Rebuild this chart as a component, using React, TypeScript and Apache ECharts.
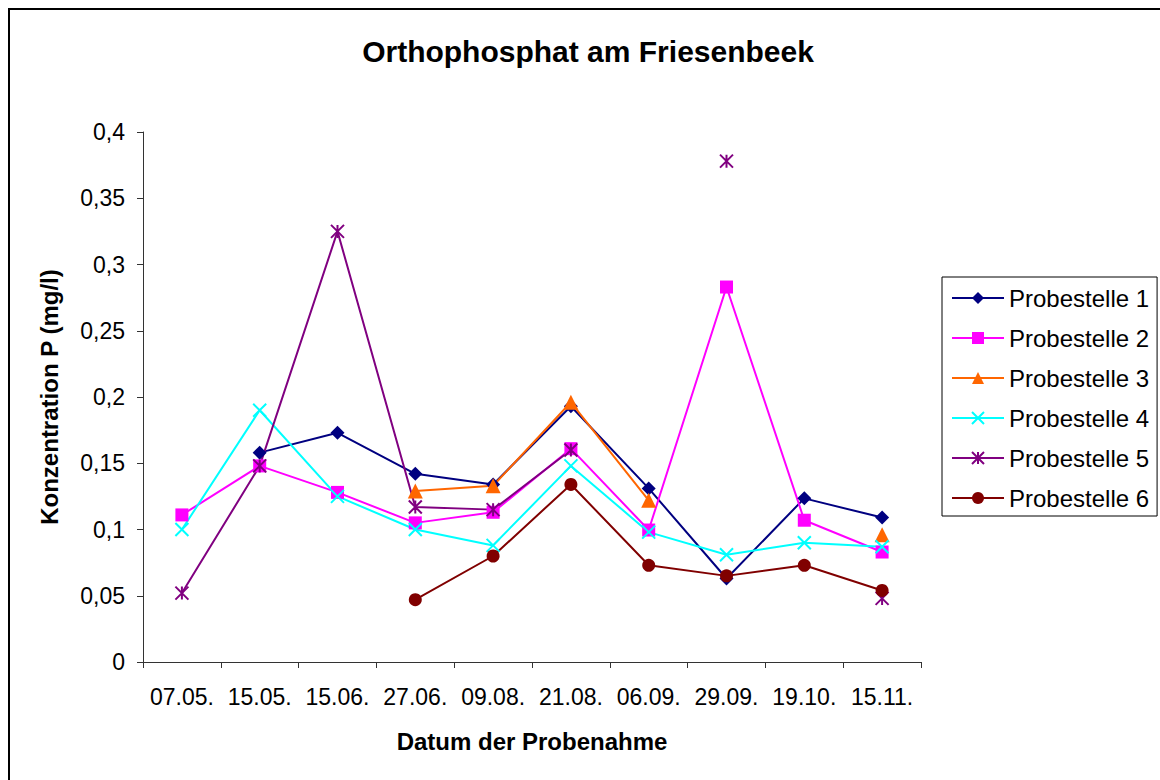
import React, { useEffect, useRef } from "react";
import * as echarts from "echarts";

const categories = ["07.05.", "15.05.", "15.06.", "27.06.", "09.08.", "21.08.", "06.09.", "29.09.", "19.10.", "15.11."];
const seriesNames = ["Probestelle 1", "Probestelle 2", "Probestelle 3", "Probestelle 4", "Probestelle 5", "Probestelle 6"];
const probestelle1 = [null, 0.158, 0.173, 0.142, 0.134, 0.193, 0.131, 0.063, 0.1235, 0.109];
const probestelle2 = [0.111, 0.148, 0.128, 0.105, 0.113, 0.161, 0.0996, 0.283, 0.107, 0.083];
const probestelle3 = [null, null, null, 0.129, 0.133, 0.196, 0.122, null, null, 0.096];
const probestelle4 = [0.1, 0.19, 0.125, 0.1, 0.088, 0.148, 0.098, 0.081, 0.09, 0.087];
const probestelle5 = [0.052, 0.148, 0.325, 0.117, 0.115, 0.16, null, 0.378, null, 0.048];
const probestelle6 = [null, null, null, 0.047, 0.08, 0.134, 0.073, 0.065, 0.073, 0.054];
const yTicks = [0, 0.05, 0.1, 0.15, 0.2, 0.25, 0.3, 0.35, 0.4];

const FONT = "'Liberation Sans', Arial, sans-serif";

const X_SYMBOL = "path://M0,0L10,10M10,0L0,10";
const STAR_SYMBOL = "path://M0,0L10,10M10,0L0,10M5,0L5,10";

export default function App() {
  const ref = useRef<HTMLDivElement>(null);

  useEffect(() => {
    if (!ref.current) return;
    const chart = echarts.init(ref.current, undefined, { renderer: "svg" });

    const mk = (name: string, data: (number | null)[], color: string, symbol: string, size: number, stroke = false) => ({
      name,
      type: "line",
      data,
      connectNulls: false,
      showSymbol: true,
      showAllSymbol: true,
      symbol,
      symbolSize: size,
      lineStyle: { color, width: 2 },
      itemStyle: stroke ? { color, borderColor: color, borderWidth: 2 } : { color },
      emphasis: { disabled: true },
      clip: false,
    });

    chart.setOption({
      animation: false,
      backgroundColor: "#fff",
      title: {
        text: "Orthophosphat am Friesenbeek",
        left: "center",
        top: 23,
        textStyle: { fontFamily: FONT, fontSize: 30, fontWeight: "bold", color: "#000" },
      },
      graphic: [
        {
          type: "rect",
          shape: { x: 1, y: 1, width: 1180, height: 800 },
          style: { fill: "none", stroke: "#000", lineWidth: 2 },
          silent: true,
        },
      ],
      legend: {
        orient: "vertical",
        left: 934,
        top: 269,
        data: seriesNames,
        itemWidth: 52,
        itemHeight: 15,
        itemGap: 14,
        padding: [8, 8, 5, 9],
        borderColor: "#000",
        borderWidth: 1,
        textStyle: { fontFamily: FONT, fontSize: 24, color: "#000", lineHeight: 26 },
      },
      grid: { left: 135, top: 124, width: 778, height: 530, containLabel: false },
      xAxis: {
        type: "category",
        data: categories,
        boundaryGap: true,
        name: "Datum der Probenahme",
        nameLocation: "middle",
        nameGap: 67,
        nameTextStyle: { fontFamily: FONT, fontSize: 24, fontWeight: "bold", color: "#000" },
        axisLine: { lineStyle: { color: "#333", width: 1 } },
        axisTick: { show: true, alignWithLabel: false, length: 6, lineStyle: { color: "#333" } },
        axisLabel: { fontFamily: FONT, fontSize: 23, color: "#000", margin: 23, interval: 0 },
        splitLine: { show: false },
      },
      yAxis: {
        type: "value",
        min: yTicks[0],
        max: yTicks[yTicks.length - 1],
        interval: 0.05,
        name: "Konzentration P (mg/l)",
        nameLocation: "middle",
        nameGap: 82,
        nameTextStyle: { fontFamily: FONT, fontSize: 24, fontWeight: "bold", color: "#000" },
        axisLine: { show: true, lineStyle: { color: "#333", width: 1 } },
        axisTick: { show: true, length: 6, lineStyle: { color: "#333" } },
        axisLabel: {
          fontFamily: FONT,
          fontSize: 23,
          color: "#000",
          margin: 18,
          formatter: (v: number) => String(Number(v.toFixed(2))).replace(".", ","),
        },
        splitLine: { show: false },
      },
      series: [
        mk(seriesNames[0], probestelle1, "#000080", "diamond", 14),
        mk(seriesNames[1], probestelle2, "#FF00FF", "rect", 13),
        mk(seriesNames[2], probestelle3, "#FF6600", "triangle", 15),
        mk(seriesNames[3], probestelle4, "#00FFFF", X_SYMBOL, 13, true),
        mk(seriesNames[4], probestelle5, "#800080", STAR_SYMBOL, 13, true),
        mk(seriesNames[5], probestelle6, "#800000", "circle", 13),
      ],
    });

    return () => chart.dispose();
  }, []);

  return (
    <div style={{ position: "fixed", left: 0, top: 0, width: 1160, height: 780, overflow: "hidden", background: "#fff" }}>
      <div ref={ref} style={{ position: "absolute", left: 8, top: 8, width: 1160, height: 780 }} />
    </div>
  );
}
